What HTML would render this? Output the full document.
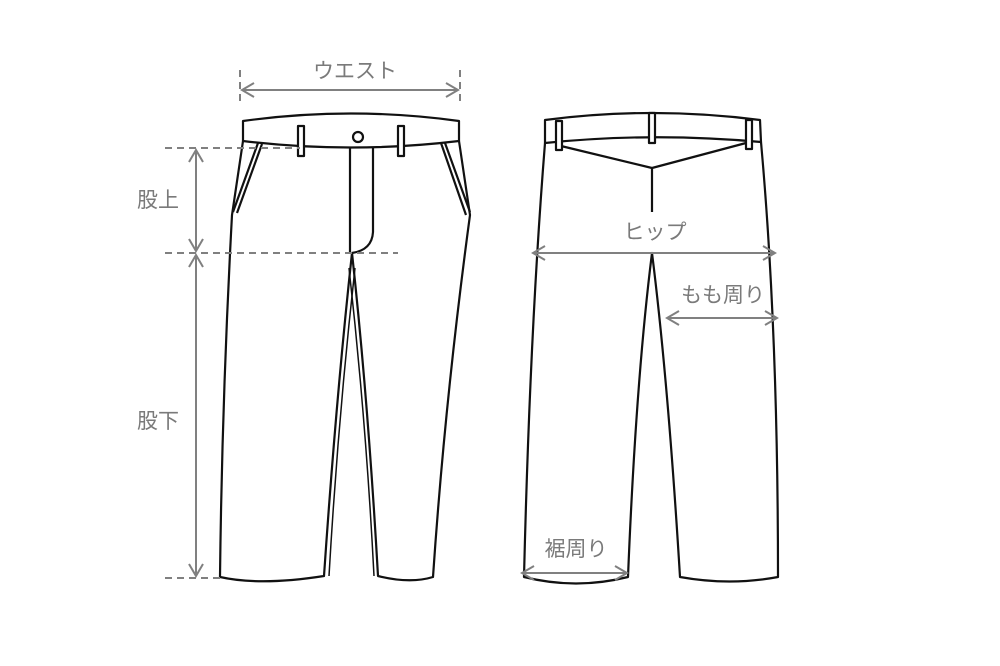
<!DOCTYPE html>
<html><head><meta charset="utf-8"><style>
html,body{margin:0;padding:0;background:#fff;}
svg{display:block;}
text{font-family:"Liberation Sans","Noto Sans CJK JP",sans-serif;fill:#7a7a7a;font-size:21px;text-anchor:middle;}
</style></head><body>
<svg width="1000" height="666" viewBox="0 0 1000 666" xmlns="http://www.w3.org/2000/svg">
<g fill="none" stroke="#111" stroke-width="2.2" stroke-linejoin="round">
<!-- FRONT -->
<path d="M243,121 Q351,106 459,121 L459,141 Q351,154 243,141 Z" fill="#fff"/>
<path d="M243,141 L232,215 Q222,400 220,577 Q260,586 324,576 Q336,400 352,253 Q368,400 378,576 Q410,584 433,577 Q445,400 470,215 L459,141"/>
<path d="M355,268 Q338,420 329,576" stroke-width="1.5"/>
<path d="M349,268 Q366,420 374,576" stroke-width="1.5"/>
<path d="M350,147 L350,253"/>
<path d="M373,147 L373,232 Q372,250 352,253"/>
<circle cx="358" cy="137" r="5"/>
<rect x="298" y="126" width="6" height="30" fill="#fff"/>
<rect x="398" y="126" width="6" height="30" fill="#fff"/>
<path d="M258,143 L233,212 M262,144 L237,213"/>
<path d="M441,143 L466,215 M445,143 L470,212"/>
<!-- BACK -->
<path d="M545,120 Q652,106 760,120 L761,142 Q652,132 545,143 Z" fill="#fff"/>
<path d="M545,143 Q530,330 524,577 Q576,590 628,577 Q636,380 652,253 Q668,380 680,577 Q730,586 778,577 Q778,330 761,142"/>
<path d="M561,146 L652,168 L746,143 M652,168 L652,212"/>
<rect x="556" y="121" width="6" height="29" fill="#fff"/>
<rect x="649" y="113" width="6" height="30" fill="#fff"/>
<rect x="746" y="120" width="6" height="29" fill="#fff"/>
</g>
<g stroke="#808080" stroke-width="2" fill="none">
<path d="M240,70 L240,102 M460,70 L460,102 M165,148 L300,148 M165,253 L398,253 M165,578 L220,578" stroke-dasharray="7,5"/>
<path d="M242,90 L458,90 M196,150 L196,251 M196,255 L196,576 M533,253 L775,253 M667,318 L777,318 M522,573 L627,573"/>
<path d="M254,83 L242,90 L254,97 M446,83 L458,90 L446,97"/>
<path d="M189,162 L196,150 L203,162 M189,239 L196,251 L203,239 M189,267 L196,255 L203,267 M189,564 L196,576 L203,564"/>
<path d="M545,246 L533,253 L545,260 M763,246 L775,253 L763,260"/>
<path d="M679,311 L667,318 L679,325 M765,311 L777,318 L765,325"/>
<path d="M534,566 L522,573 L534,580 M615,566 L627,573 L615,580"/>
</g>
<text x="355" y="78">ウエスト</text>
<text x="158" y="207">股上</text>
<text x="158" y="428">股下</text>
<text x="655" y="239">ヒップ</text>
<text x="723" y="302">もも周り</text>
<text x="576" y="556">裾周り</text>
</svg>
</body></html>
